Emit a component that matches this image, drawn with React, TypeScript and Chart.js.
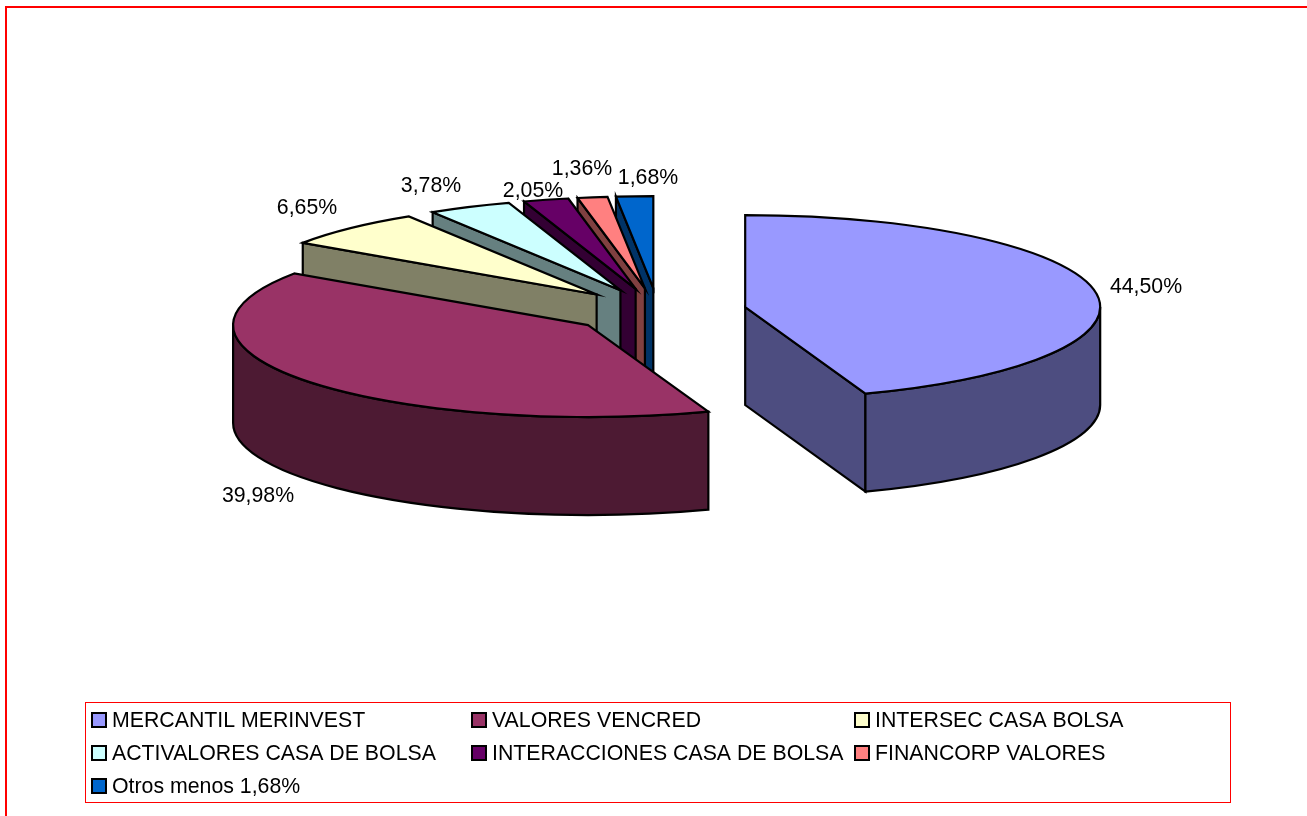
import React, { useEffect, useRef } from "react";
import { Chart, registerables } from "chart.js";

Chart.register(...registerables);

const categories = [
  "MERCANTIL MERINVEST",
  "VALORES VENCRED",
  "INTERSEC CASA BOLSA",
  "ACTIVALORES CASA DE BOLSA",
  "INTERACCIONES CASA DE BOLSA",
  "FINANCORP VALORES",
  "Otros menos 1,68%",
];
const shares = [44.5, 39.98, 6.65, 3.78, 2.05, 1.36, 1.68];
const topColors = ["#9999FF", "#993366", "#FFFFCC", "#CCFFFF", "#660066", "#FF8080", "#0066CC"];
const sideColors = ["#4D4D80", "#4D1A33", "#808066", "#668080", "#330033", "#804040", "#003366"];

// Layout only
const FONT = '21.3px "Liberation Sans", Arial, sans-serif';
const TILT = 92 / 355;
const DEPTH = 98;
const CENTER_Y = 311;
const EXPLODE = 88.5;
const LINE = 2.2;
const LABEL_CENTERS: [number, number][] = [
  [1146, 287],
  [258, 496],
  [307, 208],
  [431, 186],
  [533, 191],
  [582, 169],
  [648, 178],
];
const LEGEND_BOX = { x: 85.5, y: 702.5, w: 1145, h: 100 };
const LEGEND_COLS = [92, 472, 855];
const LEGEND_ROWS = [720, 753, 786];

const pie3d = {
  id: "pie3d",
  beforeDraw(chart: any) {
    const { ctx, width, height } = chart;
    ctx.save();
    ctx.fillStyle = "#fff";
    ctx.fillRect(0, 0, width, height);
    ctx.strokeStyle = "#f00";
    ctx.lineWidth = 2;
    ctx.beginPath();
    ctx.moveTo(6, height + 2);
    ctx.lineTo(6, 7);
    ctx.lineTo(width + 2, 7);
    ctx.stroke();
    ctx.restore();
  },
  beforeDatasetDraw() {
    return false;
  },
  afterDatasetsDraw(chart: any) {
    const { ctx } = chart;
    const arcs = chart.getDatasetMeta(0).data;
    ctx.save();
    ctx.lineWidth = LINE;
    ctx.lineJoin = "miter";
    ctx.strokeStyle = "#000";
    for (let i = arcs.length - 1; i >= 0; i--) {
      const arc = arcs[i];
      const { x, startAngle, endAngle, outerRadius: r } = arc.getProps(
        ["x", "startAngle", "endAngle", "outerRadius"],
        true
      );
      const mid = (startAngle + endAngle) / 2;
      const dx = Math.cos(mid) * EXPLODE;
      const dy = Math.sin(mid) * EXPLODE;
      const cx = x + dx;
      const cy = CENTER_Y + TILT * dy;
      const rim = (a: number): [number, number] => [
        cx + Math.cos(a) * r,
        cy + TILT * Math.sin(a) * r,
      ];
      ctx.fillStyle = sideColors[i];
      const wall = (a: number) => {
        const [px, py] = rim(a);
        ctx.beginPath();
        ctx.moveTo(cx, cy);
        ctx.lineTo(px, py);
        ctx.lineTo(px, py + DEPTH);
        ctx.lineTo(cx, cy + DEPTH);
        ctx.closePath();
        ctx.fill();
        ctx.stroke();
      };
      if (Math.cos(startAngle) < -1e-6) wall(startAngle);
      if (Math.cos(endAngle) > 1e-6) wall(endAngle);
      // outer rim: only the part on the near half of the ellipse is visible
      const tau = Math.PI * 2;
      for (const k of [-1, 0, 1]) {
        const a1 = Math.max(startAngle, k * tau);
        const a2 = Math.min(endAngle, k * tau + Math.PI);
        if (a2 > a1) {
          ctx.beginPath();
          ctx.ellipse(cx, cy, r, TILT * r, 0, a1, a2);
          ctx.ellipse(cx, cy + DEPTH, r, TILT * r, 0, a2, a1, true);
          ctx.closePath();
          ctx.fill();
          ctx.stroke();
        }
      }
      // top face: the library's own arc, flattened and pulled out
      ctx.save();
      ctx.translate(dx, CENTER_Y + TILT * dy);
      ctx.scale(1, TILT);
      ctx.translate(0, -arc.y);
      arc.draw(ctx);
      ctx.restore();
      ctx.beginPath();
      ctx.moveTo(cx, cy);
      ctx.ellipse(cx, cy, r, TILT * r, 0, startAngle, endAngle);
      ctx.closePath();
      ctx.stroke();
    }
    ctx.restore();
  },
  afterDraw(chart: any) {
    const { ctx } = chart;
    const values = chart.data.datasets[0].data;
    ctx.save();
    ctx.font = FONT;
    ctx.fillStyle = "#000";
    ctx.textBaseline = "middle";
    ctx.textAlign = "center";
    values.forEach((v: number, i: number) => {
      ctx.fillText(v.toFixed(2).replace(".", ",") + "%", LABEL_CENTERS[i][0], LABEL_CENTERS[i][1]);
    });
    ctx.strokeStyle = "#f00";
    ctx.lineWidth = 1;
    ctx.strokeRect(LEGEND_BOX.x, LEGEND_BOX.y, LEGEND_BOX.w, LEGEND_BOX.h);
    ctx.textAlign = "left";
    chart.data.labels.forEach((label: string, i: number) => {
      const col = LEGEND_COLS[i % 3];
      const row = LEGEND_ROWS[Math.floor(i / 3)];
      ctx.fillStyle = topColors[i];
      ctx.fillRect(col, row - 7, 14, 14);
      ctx.strokeStyle = "#000";
      ctx.lineWidth = 2;
      ctx.strokeRect(col, row - 7, 14, 14);
      ctx.fillStyle = "#000";
      ctx.fillText(label, col + 20, row + 1);
    });
    ctx.restore();
  },
};

export default function App() {
  const ref = useRef<HTMLCanvasElement>(null);
  useEffect(() => {
    const chart = new Chart(ref.current!, {
      type: "pie",
      data: {
        labels: categories,
        datasets: [
          {
            data: shares,
            backgroundColor: topColors,
            borderWidth: 0,
            offset: 0,
            hoverOffset: 0,
          },
        ],
      },
      options: {
        responsive: false,
        animation: false,
        events: [],
        layout: { padding: { left: 9, right: 0, top: 53, bottom: 53 } },
        plugins: { legend: { display: false }, tooltip: { enabled: false }, title: { display: false } },
      },
      plugins: [pie3d],
    } as any);
    return () => chart.destroy();
  }, []);
  return (
    <div style={{ position: "fixed", left: 0, top: 0, width: 1307, height: 816, overflow: "hidden" }}>
      <canvas ref={ref} width={1307} height={816} style={{ display: "block" }} />
    </div>
  );
}
